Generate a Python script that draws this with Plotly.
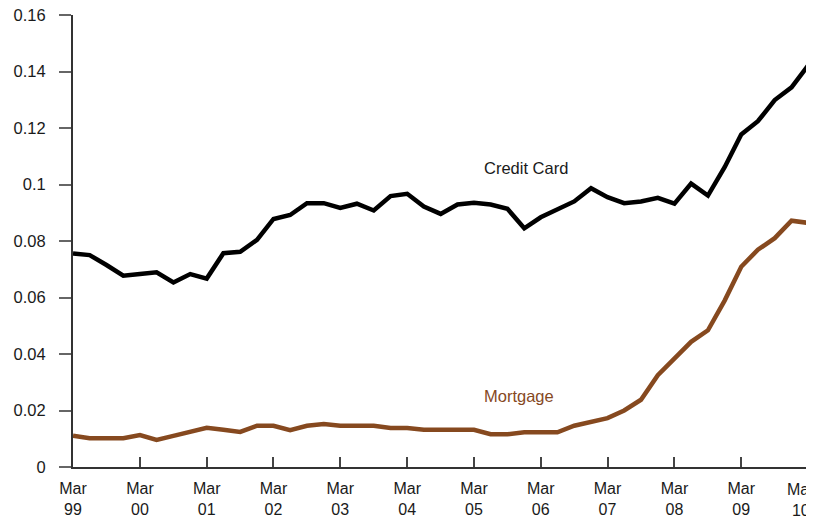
import pandas as pd
import plotly.graph_objects as go

# Quarterly observations, Mar 1999 .. Mar 2010
quarters = pd.date_range("1999-03-31", "2010-03-31", freq="QE")

credit_card = [
    0.0756, 0.0750, 0.0715, 0.0677, 0.0683, 0.0689, 0.0653, 0.0683, 0.0667,
    0.0757, 0.0762, 0.0804, 0.0878, 0.0892, 0.0934, 0.0934, 0.0917, 0.0932,
    0.0908, 0.0959, 0.0967, 0.0922, 0.0896, 0.0929, 0.0935, 0.0929, 0.0914,
    0.0845, 0.0884, 0.0911, 0.0940, 0.0987, 0.0955, 0.0934, 0.0940, 0.0953,
    0.0932, 0.1003, 0.0961, 0.1062, 0.1177, 0.1224, 0.1299, 0.1344, 0.1421,
]

mortgage = [
    0.0111, 0.0102, 0.0102, 0.0102, 0.0113, 0.0096, 0.0110, 0.0124, 0.0139,
    0.0132, 0.0124, 0.0146, 0.0146, 0.0130, 0.0146, 0.0152, 0.0146, 0.0146,
    0.0146, 0.0138, 0.0138, 0.0132, 0.0132, 0.0132, 0.0132, 0.0116, 0.0116,
    0.0123, 0.0123, 0.0123, 0.0146, 0.0161, 0.0173, 0.0200, 0.0238, 0.0325,
    0.0384, 0.0443, 0.0484, 0.0590, 0.0709, 0.0769, 0.0810, 0.0872, 0.0864,
]

x_tick_dates = [f"{y}-03-31" for y in range(1999, 2011)]
x_tick_months = ["Mar"] * 12
x_tick_years = ["99", "00", "01", "02", "03", "04", "05", "06", "07", "08", "09", "10"]
y_tick_vals = [0, 0.02, 0.04, 0.06, 0.08, 0.1, 0.12, 0.14, 0.16]
y_tick_labels = ["0", "0.02", "0.04", "0.06", "0.08", "0.1", "0.12", "0.14", "0.16"]

series_names = ["Credit Card", "Mortgage"]
series_colors = ["#000000", "#86491F"]

FONT = "Liberation Sans, Arial, sans-serif"
TEXT = "#1a1a1a"

# two-line tick labels; the last one is drawn as an annotation nudged left
# so it stays at the page edge like in the original
all_labels = [f"{m}<br>{yy}" for m, yy in zip(x_tick_months, x_tick_years)]
x_tick_labels = all_labels[:-1] + [""]

fig = go.Figure()
fig.add_trace(go.Scatter(x=quarters, y=credit_card, mode="lines",
                         name=series_names[0], cliponaxis=False,
                         line=dict(color=series_colors[0], width=4.5)))
fig.add_trace(go.Scatter(x=quarters, y=mortgage, mode="lines",
                         name=series_names[1], cliponaxis=False,
                         line=dict(color=series_colors[1], width=4.5)))

fig.add_annotation(x="2006-01-10", y=0.1058, text=series_names[0], showarrow=False,
                   font=dict(family=FONT, size=16.5, color=TEXT))
fig.add_annotation(x="2005-12-01", y=0.0252, text=series_names[1], showarrow=False,
                   font=dict(family=FONT, size=16.5, color=series_colors[1]))
fig.add_annotation(x=x_tick_dates[-1], xref="x", y=0, yref="paper",
                   text=all_labels[-1], showarrow=False,
                   xanchor="center", yanchor="top", xshift=-7, yshift=-12,
                   font=dict(family=FONT, size=16, color=TEXT))

# the page body adds an 8px offset; the figure is sized to fill the rest
fig.update_layout(
    width=806, height=510,
    margin=dict(l=65, r=6, t=7, b=51),
    paper_bgcolor="white", plot_bgcolor="white",
    showlegend=False,
    font=dict(family=FONT, size=16.5, color=TEXT),
)
fig.update_xaxes(
    range=["1999-03-31", "2010-03-31"],
    tickvals=x_tick_dates, ticktext=x_tick_labels,
    ticks="inside", ticklen=10, tickwidth=1.5, tickcolor="#444",
    showline=True, linecolor="#333", linewidth=2,
    showgrid=False, zeroline=False,
    tickfont=dict(family=FONT, size=16, color=TEXT),
    ticklabelstandoff=6, automargin=False, ticklabeloverflow="allow",
)
fig.update_yaxes(
    range=[0, 0.16],
    tickvals=y_tick_vals, ticktext=y_tick_labels,
    ticks="outside", ticklen=12, tickwidth=1.5, tickcolor="#666",
    showline=True, linecolor="#333", linewidth=2,
    showgrid=False, zeroline=False,
    ticklabelstandoff=10, automargin=False, ticklabeloverflow="allow",
)

fig.write_html("out.html")
